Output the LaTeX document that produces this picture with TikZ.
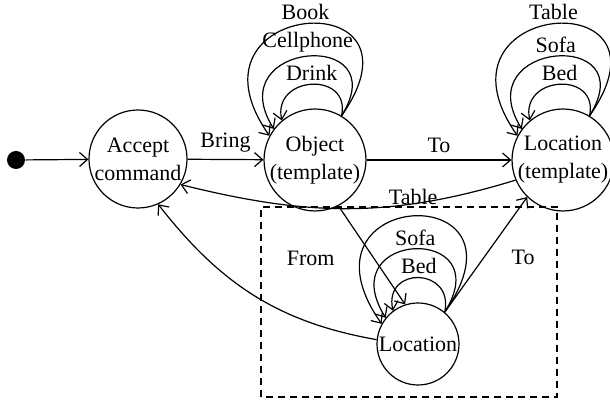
\documentclass[tikz,border=0pt]{standalone}
\usepackage{fontspec}
\setmainfont{Liberation Serif}
\usetikzlibrary{arrows.meta}

\begin{document}
\begin{tikzpicture}[
  x=0.5pt, y=0.5pt,
  font=\fontsize{11}{14}\selectfont,
  line width=0.6pt,
  >={Straight Barb[length=4pt,width=7pt]},
  state/.style={draw, circle, minimum size=49pt, inner sep=0, align=center},
  lbl/.style={inner sep=1.5pt},
  lpin/.style={out=78, in=102, distance=23pt},
  lpmid/.style={out=58, in=122, distance=52pt},
  lpout/.style={out=55, in=125, distance=83pt},
]
\useasboundingbox (0,0) rectangle (610,400);
% --- stany ---
\node[circle, fill, inner sep=0, minimum size=9pt] (start) at (16,240) {};
\node[state] (accept) at (138,241) {Accept\\command};
\node[state] (obj) at (315,240) {Object\\(template)};
\node[state] (loct) at (563,240) {Location\\(template)};
\node[state, minimum size=41pt] (loc) at (418,56) {Location};
% --- obszar ---
\draw[dash pattern=on 3.5pt off 2.5pt] (261,3) rectangle (557,193);
% --- przejscia ---
\draw[->] (start) -- (accept);
\draw[->] (accept) -- node[above] {Bring} (obj);
\draw[->] (obj) -- node[above] {To} (loct);
\draw[->] (loct.203) to[out=197, in=-14] (accept.-31);
\draw[->] (obj.-63) -- node[pos=0.53, left=16pt] {From} (loc.108);
\draw[->] (loc.50) -- node[pos=0.48, right=10pt] {To} (loct.226);
\draw[->] (loc.174) to[out=170, in=-52] (accept.-66);
% --- petle ---
\draw[->] (obj.59) to[lpin] node[lbl, above] {Drink} (obj.130);
\draw[->] (obj.59) to[lpmid] node[lbl, above] {Cellphone} (obj.143);
\draw[->] (obj.59) to[lpout] node[lbl, above] {Book} (obj.152);
\draw[->] (loct.59) to[lpin] node[lbl, above] {Bed} (loct.130);
\draw[->] (loct.59) to[lpmid] node[lbl, above] {Sofa} (loct.143);
\draw[->] (loct.59) to[lpout] node[lbl, above] {Table} (loct.152);
\draw[->] (loc.50) to[lpin] node[lbl, above] {Bed} (loc.127);
\draw[->] (loc.50) to[lpmid] node[lbl, above] {Sofa} (loc.141);
\draw[->] (loc.50) to[lpout] node[lbl, above, yshift=4pt] {Table} (loc.151);
\end{tikzpicture}
\end{document}
